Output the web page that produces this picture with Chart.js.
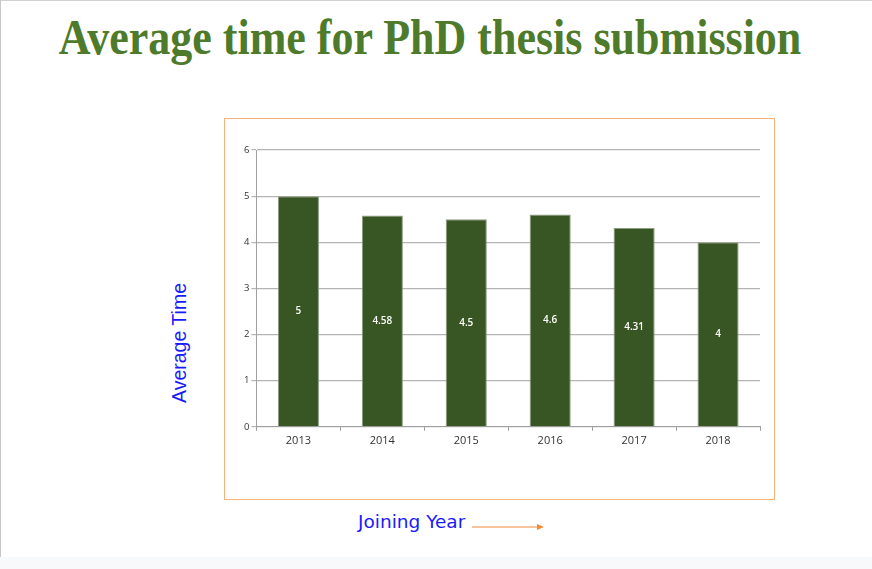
<!DOCTYPE html>
<html>
<head>
<meta charset="utf-8">
<script src="https://cdn.jsdelivr.net/npm/chart.js@4.4.0/dist/chart.umd.min.js"></script>
<style>
  html, body { margin: 0; padding: 0; background: #f8f9fb; }
  #page {
    position: absolute; left: 0; top: 0; width: 872px; height: 557px;
    background: #fff; border-left: 1px solid #c8c8c8; border-top: 1px solid #d0d0d0;
    box-sizing: border-box;
  }
  #title {
    position: absolute; left: 0; top: 6px; width: 858px; text-align: center;
    font-family: "Liberation Serif", serif; font-weight: bold; font-size: 44px;
    color: #4e7a2b; white-space: nowrap; transform: scaleY(1.17); transform-origin: 50% 0;
  }
  #box {
    position: absolute; left: 223px; top: 117px; width: 551px; height: 382px;
    border: 1px solid #f6b27a; box-sizing: border-box;
  }
  #ylab {
    position: absolute; left: 178px; top: 342px; transform: translate(-50%, -50%) rotate(-90deg);
    font-family: "Liberation Sans", sans-serif; font-size: 19.5px; color: #1a1aff; white-space: nowrap;
  }
  #xlab {
    position: absolute; left: 357px; top: 510px;
    font-family: "DejaVu Sans", sans-serif; font-size: 18.5px; color: #1a1aff; white-space: nowrap;
  }
  #arrow { position: absolute; left: 471px; top: 520px; }
</style>
</head>
<body>
<div id="page">
  <div id="title">Average time for PhD thesis submission</div>
  <div id="box"><canvas id="chart" width="549" height="380"></canvas></div>
  <div id="ylab">Average Time</div>
  <div id="xlab">Joining Year</div>
  <svg id="arrow" width="76" height="12"><line x1="0" y1="6" x2="68" y2="6" stroke="#f28a3a" stroke-width="1.2"/><path d="M65,3 L72,6 L65,9 Z" fill="#f28a3a"/></svg>
</div>
<script>
const years = ['2013', '2014', '2015', '2016', '2017', '2018'];
const avgTime = [5, 4.58, 4.5, 4.6, 4.31, 4];

const valueLabels = {
  id: 'valueLabels',
  afterDatasetsDraw(chart) {
    const ctx = chart.ctx;
    const meta = chart.getDatasetMeta(0);
    ctx.save();
    ctx.fillStyle = '#ffffff';
    ctx.font = '600 10px "Open Sans", sans-serif';
    ctx.textAlign = 'center';
    ctx.textBaseline = 'middle';
    meta.data.forEach((bar, i) => {
      const mid = (bar.y + bar.base) / 2;
      ctx.fillText(String(avgTime[i]), bar.x, mid);
    });
    ctx.restore();
  }
};

new Chart(document.getElementById('chart').getContext('2d'), {
  type: 'bar',
  data: {
    labels: years,
    datasets: [{
      data: avgTime,
      backgroundColor: '#385623',
      borderColor: '#8c9c82',
      borderWidth: 1,
      categoryPercentage: 1,
      barPercentage: 0.49
    }]
  },
  options: {
    responsive: false,
    animation: false,
    layout: { padding: { left: 17, right: 14, top: 31, bottom: 49 } },
    plugins: { legend: { display: false }, tooltip: { enabled: false } },
    scales: {
      x: {
        grid: { drawOnChartArea: false, drawTicks: true, tickLength: 4, color: '#a0a0a0', offset: true },
        border: { color: '#a0a0a0', width: 1 },
        ticks: { color: '#333', font: { family: '"Open Sans", sans-serif', size: 11 }, padding: 3 }
      },
      y: {
        min: 0, max: 6,
        grid: { color: '#b4b4b4', lineWidth: 1.2, tickLength: 5 },
        border: { color: '#a0a0a0', width: 1 },
        ticks: { stepSize: 1, color: '#333', font: { family: '"Open Sans", sans-serif', size: 9.5 }, padding: 2 }
      }
    }
  },
  plugins: [valueLabels]
});
</script>
</body>
</html>
